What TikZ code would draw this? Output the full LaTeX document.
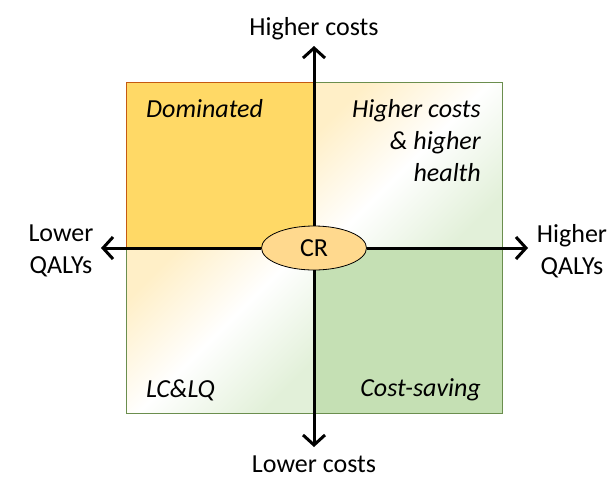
\documentclass[tikz,border=0pt]{standalone}
\usepackage{fontspec}
\setmainfont{Carlito}
\usetikzlibrary{arrows.meta,shapes.geometric}
\definecolor{domfill}{HTML}{FFD966}
\definecolor{domline}{HTML}{C55A11}
\definecolor{grnline}{HTML}{6B8E4E}
\definecolor{grnfill}{HTML}{C5E0B4}
\definecolor{paleorg}{HTML}{FFEFC7}
\definecolor{palegrn}{HTML}{E2F0D9}
\definecolor{crfill}{HTML}{FFD98E}
\begin{document}
\begin{tikzpicture}[x=1pt,y=-1pt,
  lbl/.style={font=\fontsize{26}{32}\selectfont,inner sep=0pt},
  quad/.style={font=\fontsize{26}{32}\selectfont\itshape,inner sep=0pt},
  axis/.style={line width=3pt,-{Straight Barb[length=10pt,width=22pt,line width=3pt]}}]
\useasboundingbox (0,0) rectangle (613,477);

\edef\cx{314}
\edef\cy{248}
\shade[top color=paleorg,bottom color=palegrn,middle color=white,shading angle=45] (\cx,82) rectangle (502,\cy);
\shade[top color=paleorg,bottom color=palegrn,middle color=white,shading angle=45] (126,\cy) rectangle (\cx,413);
\fill[grnfill] (\cx,\cy) rectangle (502,413);
\draw[grnline,line width=1pt] (126,82) rectangle (502,413);
\filldraw[fill=domfill,draw=domline,line width=1pt] (\cx,\cy) -- (126,\cy) -- (126,82) -- (\cx,82);

\node[quad,anchor=base west] (dom) at (146,117) {Dominated};
\node[quad,anchor=north east,align=right] (hchh) at (481,99) {Higher costs\\\& higher\\health};
\node[quad,anchor=base west] (lclq) at (146,397) {LC\&LQ};
\node[quad,anchor=base east] (cs) at (481,396) {Cost-saving};

\node[ellipse,draw,fill=crfill,line width=0.8pt,minimum width=105pt,minimum height=44pt,font=\fontsize{26}{32}\selectfont,inner sep=0pt] (cr) at (\cx,\cy) {CR};

\coordinate (up) at (\cx,46);
\coordinate (down) at (\cx,447);
\coordinate (lft) at (101,\cy);
\coordinate (rgt) at (528,\cy);
\draw[axis] (cr.north) -- (up);
\draw[axis] (cr.south) -- (down);
\draw[axis] (cr.west) -- (lft);
\draw[axis] (cr.east) -- (rgt);

\node[lbl,anchor=base] (hc) at (\cx,35) {Higher costs};
\node[lbl,anchor=base] (lc) at (\cx,472) {Lower costs};
\node[lbl,align=center] (lq) at (61,251) {Lower\\QALYs};
\node[lbl,align=center] (hq) at (572,251) {Higher\\QALYs};
\end{tikzpicture}
\end{document}
